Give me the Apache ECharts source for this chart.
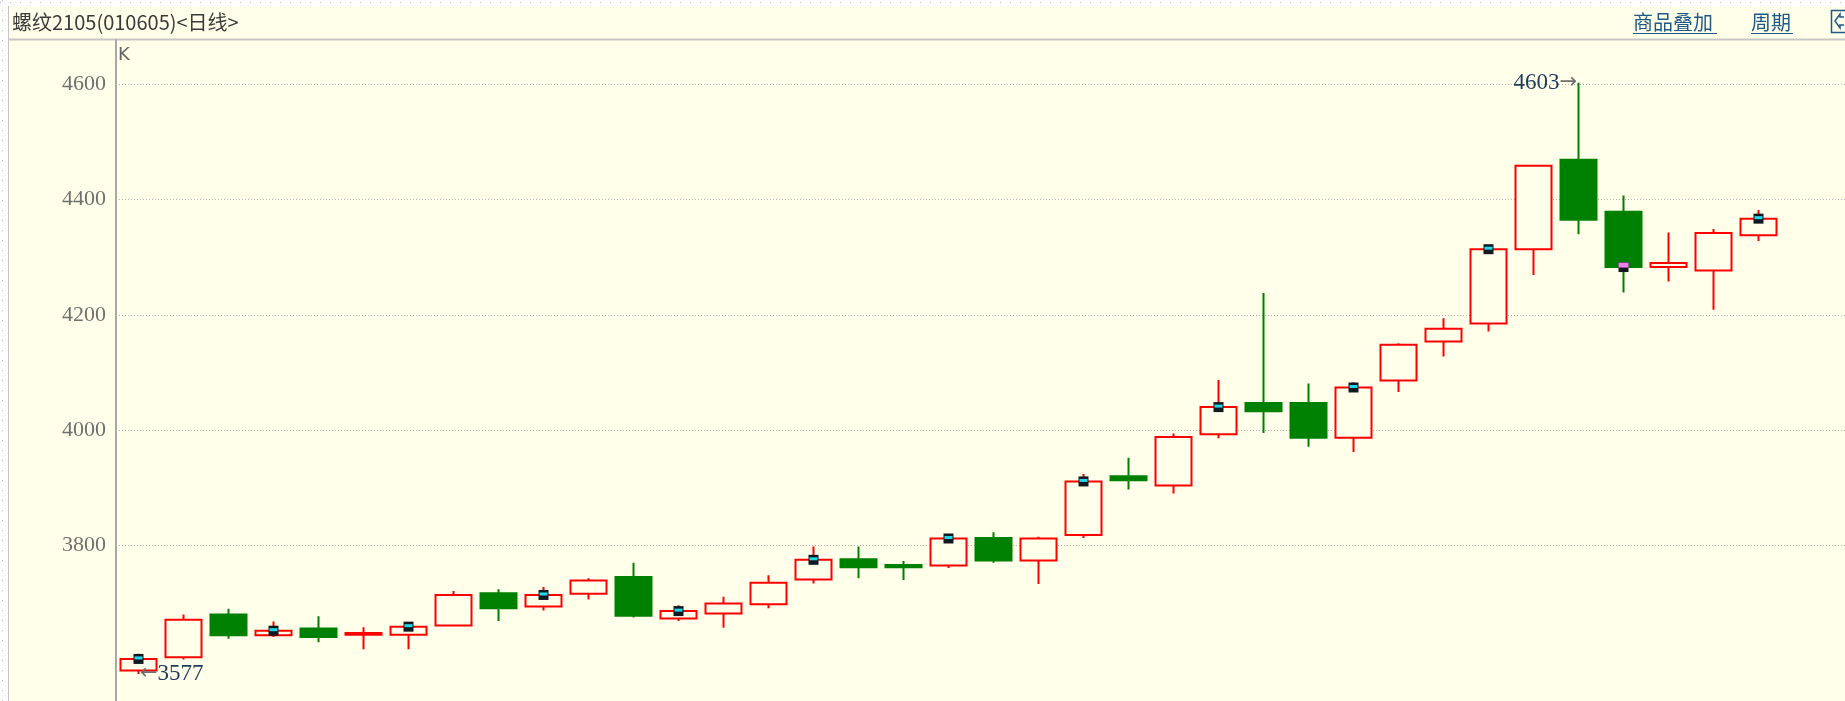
<!DOCTYPE html>
<html>
<head>
<meta charset="utf-8">
<title>螺纹2105 日线</title>
<script src="https://cdn.jsdelivr.net/npm/echarts@6/dist/echarts.min.js"></script>
<style>
html, body { margin: 0; padding: 0; background: #fff; }
#chart { width: 1845px; height: 701px; }
</style>
</head>
<body>
<div id="chart"></div>
<script>
// 螺纹2105 daily candles
const days = ['1', '2', '3', '4', '5', '6', '7', '8', '9', '10', '11', '12', '13', '14', '15', '16', '17', '18', '19',
  '20', '21', '22', '23', '24', '25', '26', '27', '28', '29', '30', '31', '32', '33', '34', '35', '36', '37']
const opens = [3583, 3606, 3680, 3644, 3656, 3645, 3645, 3661, 3717, 3694, 3716, 3745, 3673, 3682, 3698, 3741, 3776, 3766, 3765,
  3813, 3774, 3818, 3920, 3904, 3993, 4047, 4047, 3987, 4086, 4154, 4185, 4314, 4469, 4379, 4283, 4277, 4338]
const closes = [3603, 3671, 3644, 3652, 3641, 3648, 3659, 3714, 3691, 3714, 3739, 3678, 3686, 3699, 3735, 3775, 3762, 3762, 3812,
  3774, 3812, 3911, 3913, 3988, 4040, 4033, 3987, 4074, 4148, 4176, 4314, 4459, 4365, 4283, 4290, 4342, 4367]
const lows = [3577, 3602, 3638, 3641, 3632, 3620, 3620, 3660, 3669, 3687, 3706, 3675, 3669, 3657, 3691, 3734, 3743, 3740, 3761,
  3770, 3733, 3813, 3897, 3890, 3986, 3995, 3971, 3962, 4066, 4128, 4171, 4269, 4340, 4239, 4258, 4209, 4328]
const highs = [3612, 3680, 3690, 3668, 3677, 3658, 3665, 3721, 3724, 3728, 3743, 3770, 3696, 3711, 3748, 3798, 3798, 3773, 3820,
  3823, 3815, 3924, 3952, 3994, 4087, 4238, 4081, 4083, 4151, 4194, 4318, 4459, 4603, 4407, 4343, 4349, 4382]
const gridValues = [3800, 4000, 4200, 4400, 4600]
const signalIdx = [0, 3, 6, 9, 12, 15, 18, 21, 24, 27, 30, 33, 36]

const bg = '#FFFFEA'
const upColor = '#FF0000'
const downColor = '#008000'
const serif = 'Liberation Serif'
const cjk = 'Noto Sans CJK SC'

// two empty slots on the right, like the terminal leaves
const xCats = days.concat(['', ''])
const candles = opens.map((o, i) => [o, closes[i], lows[i], highs[i]])
const upSignals = []
const downSignals = []
signalIdx.forEach(i => {
  (closes[i] >= opens[i] ? upSignals : downSignals).push([i, closes[i]])
})

const chart = echarts.init(document.getElementById('chart'))
chart.setOption({
  animation: false,
  backgroundColor: bg,
  grid: {
    left: 116, top: 40, bottom: 0, width: 45 * xCats.length,
    containLabel: false, outerBoundsMode: 'none'
  },
  xAxis: {
    type: 'category',
    data: xCats,
    boundaryGap: true,
    show: false
  },
  yAxis: {
    type: 'value',
    min: 3530,
    max: 4677,
    splitLine: { show: false },
    axisTick: { show: false },
    axisLine: { show: true, lineStyle: { color: '#a8a8a8', width: 2 } },
    axisLabel: {
      margin: 10,
      color: '#707070',
      fontFamily: serif,
      fontSize: 22,
      formatter: v => (gridValues.indexOf(v) >= 0 ? String(v) : '')
    }
  },
  series: [
    {
      type: 'candlestick',
      data: candles,
      barWidth: 37,
      z: 3,
      itemStyle: {
        color: bg,
        color0: downColor,
        borderColor: upColor,
        borderColor0: downColor,
        borderWidth: 2
      },
      markLine: {
        silent: true,
        z: 1,
        symbol: ['none', 'none'],
        label: { show: false },
        lineStyle: { color: '#b4b4b4', type: [1, 2], width: 1 },
        data: gridValues.map(v => ({ yAxis: v }))
      },
      markPoint: {
        silent: true,
        z: 6,
        symbol: 'circle',
        symbolSize: 1,
        itemStyle: { color: 'rgba(0,0,0,0)' },
        label: {
          show: true,
          rich: {
            v: { fontFamily: serif, fontSize: 23, color: '#1d3a5e' },
            a: { fontFamily: 'DejaVu Sans', fontSize: 21, color: '#707070' }
          }
        },
        data: [
          { type: 'max', valueDim: 'highest', label: { position: 'left', distance: 1, formatter: p => `{v|${p.value}}{a|→}` } },
          { type: 'min', valueDim: 'lowest', label: { position: 'right', distance: 1, formatter: p => `{a|←}{v|${p.value}}` } }
        ]
      }
    },
    {
      type: 'scatter',
      data: upSignals.concat(downSignals),
      symbol: 'rect',
      symbolSize: 10,
      silent: true,
      z: 4,
      itemStyle: { color: '#111820', opacity: 1 }
    },
    {
      type: 'scatter',
      data: upSignals,
      symbol: 'rect',
      symbolSize: [8, 3],
      symbolOffset: [0, -1],
      silent: true,
      z: 5,
      itemStyle: { color: '#20d8e8', opacity: 1 }
    },
    {
      type: 'scatter',
      data: downSignals,
      symbol: 'rect',
      symbolSize: [10, 5],
      symbolOffset: [0, -2],
      silent: true,
      z: 5,
      itemStyle: { color: '#f080f0', opacity: 1 }
    }
  ],
  graphic: [
    // white outer margin with dotted frame
    { type: 'rect', silent: true, shape: { x: 0, y: 0, width: 1845, height: 6 }, style: { fill: '#fff' } },
    { type: 'rect', silent: true, shape: { x: 0, y: 0, width: 8, height: 701 }, style: { fill: '#fff' } },
    { type: 'line', silent: true, shape: { x1: 0, y1: 2.5, x2: 1845, y2: 2.5 }, style: { stroke: '#b8b8b8', lineWidth: 1, lineDash: [1, 9] } },
    { type: 'line', silent: true, shape: { x1: 2.5, y1: 0, x2: 2.5, y2: 701 }, style: { stroke: '#b8b8b8', lineWidth: 1, lineDash: [1, 9] } },
    { type: 'line', silent: true, shape: { x1: 8.5, y1: 6, x2: 8.5, y2: 701 }, style: { stroke: '#c8c2cc', lineWidth: 1 } },
    // header
    { type: 'line', silent: true, shape: { x1: 8, y1: 39.5, x2: 1845, y2: 39.5 }, style: { stroke: '#c6c6c6', lineWidth: 2 } },
    {
      type: 'text', silent: true, x: 12, y: 22,
      style: { text: '螺纹2105(010605)<日线>', fontFamily: cjk, fontSize: 20, fill: '#3a3a3a', verticalAlign: 'middle' }
    },
    {
      type: 'text', silent: true, x: 1633, y: 22,
      style: { text: '商品叠加', fontFamily: cjk, fontSize: 20, fill: '#1e5a88', verticalAlign: 'middle' }
    },
    { type: 'line', silent: true, shape: { x1: 1633, y1: 33.5, x2: 1717, y2: 33.5 }, style: { stroke: '#1e5a88', lineWidth: 1 } },
    {
      type: 'text', silent: true, x: 1751, y: 22,
      style: { text: '周期', fontFamily: cjk, fontSize: 20, fill: '#1e5a88', verticalAlign: 'middle' }
    },
    { type: 'line', silent: true, shape: { x1: 1751, y1: 33.5, x2: 1793, y2: 33.5 }, style: { stroke: '#1e5a88', lineWidth: 1 } },
    { type: 'rect', silent: true, shape: { x: 1831.5, y: 10.5, width: 22, height: 22 }, style: { fill: 'none', stroke: '#1e5a88', lineWidth: 1.5 } },
    {
      type: 'polyline', silent: true,
      shape: { points: [[1844, 17], [1840, 17], [1840, 14], [1835, 21], [1840, 28], [1840, 25], [1844, 25]] },
      style: { fill: 'none', stroke: '#1e5a88', lineWidth: 1.5 }
    },
    {
      type: 'text', silent: true, x: 118, y: 55,
      style: { text: 'K', fontFamily: 'DejaVu Sans', fontSize: 18, fill: '#666', verticalAlign: 'middle' }
    }
  ]
})
</script>
</body>
</html>
